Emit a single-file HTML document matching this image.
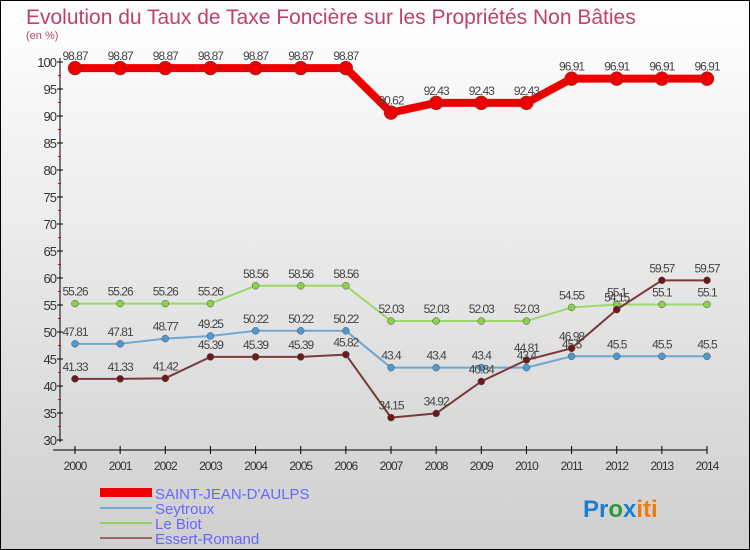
<!DOCTYPE html>
<html><head><meta charset="utf-8"><style>
body{margin:0;width:750px;height:550px;overflow:hidden;font-family:"Liberation Sans",sans-serif}
svg{display:block}
</style></head><body>
<svg id="chart" width="750" height="550" xmlns="http://www.w3.org/2000/svg">
<defs><linearGradient id="bg" x1="0" y1="0" x2="0" y2="1"><stop offset="0" stop-color="#ffffff"/><stop offset="1" stop-color="#cfcfcf"/></linearGradient></defs>
<rect x="0.5" y="0.5" width="749" height="549" fill="url(#bg)" stroke="#000"/>
<text x="26" y="24" font-size="21" fill="#c0406a">Evolution du Taux de Taxe Foncière sur les Propriétés Non Bâties</text>
<text x="26" y="39" font-size="11" fill="#c0406a">(en %)</text>
<g id="axes"></g><g id="series"></g>
<g>
<rect x="100" y="488" width="52" height="9" fill="#e00"/>
<text x="155" y="499" font-size="15" fill="#6666ff">SAINT-JEAN-D'AULPS</text>
<line x1="100" y1="508" x2="152" y2="508" stroke="#6fa8d0" stroke-width="2"/>
<text x="155" y="514" font-size="15" fill="#6666ff">Seytroux</text>
<line x1="100" y1="523" x2="152" y2="523" stroke="#8fd460" stroke-width="2"/>
<text x="155" y="529" font-size="15" fill="#6666ff">Le Biot</text>
<line x1="100" y1="538" x2="152" y2="538" stroke="#996666" stroke-width="2"/>
<text x="155" y="544" font-size="15" fill="#6666ff">Essert-Romand</text>
</g>
<text x="583" y="517" font-size="24" font-weight="bold"><tspan fill="#1a7fd0">Pr</tspan><tspan fill="#2a9a3a">o</tspan><tspan fill="#1a7fd0">x</tspan><tspan fill="#f07a10">iti</tspan></text>
</svg>
<script>
const years=[2000,2001,2002,2003,2004,2005,2006,2007,2008,2009,2010,2011,2012,2013,2014];
const saintJean=[98.87,98.87,98.87,98.87,98.87,98.87,98.87,90.62,92.43,92.43,92.43,96.91,96.91,96.91,96.91];
const seytroux=[47.81,47.81,48.77,49.25,50.22,50.22,50.22,43.4,43.4,43.4,43.4,45.5,45.5,45.5,45.5];
const leBiot=[55.26,55.26,55.26,55.26,58.56,58.56,58.56,52.03,52.03,52.03,52.03,54.55,55.1,55.1,55.1];
const essert=[41.33,41.33,41.42,45.39,45.39,45.39,45.82,34.15,34.92,40.84,44.81,46.98,54.15,59.57,59.57];
const yTicks=[30,35,40,45,50,55,60,65,70,75,80,85,90,95,100];
const NS="http://www.w3.org/2000/svg";
const x=i=>75+i*(707-75)/(years.length-1);
const y=v=>440-(v-30)*(378/70);
function mk(t,a,p){const e=document.createElementNS(NS,t);for(const k in a)e.setAttribute(k,a[k]);p.appendChild(e);return e;}
const ax=document.getElementById('axes');
let l=mk('line',{x1:60,y1:58,x2:60,y2:442,stroke:'#000'},ax);


l=mk('line',{x1:53,y1:450,x2:707,y2:450,stroke:'#000'},ax);


yTicks.forEach(v=>{
 mk('line',{x1:57,y1:y(v),x2:63,y2:y(v),stroke:'#000'},ax);
 if(v<100)mk('line',{x1:58,y1:y(v+2.5),x2:61,y2:y(v+2.5),stroke:'#e00'},ax);
 const t=mk('text',{x:56,y:y(v)+5,'font-size':13,'text-anchor':'end',fill:'#333','letter-spacing':'-1'},ax);
 t.textContent=v;
 
 
});
years.forEach((yr,i)=>{
 mk('line',{x1:x(i),y1:446,x2:x(i),y2:454,stroke:'#000'},ax);
 const t=mk('text',{x:x(i),y:470,'font-size':12,'text-anchor':'middle',fill:'#333','letter-spacing':'-1'},ax);
 t.textContent=yr;
 
 
});
const sg=document.getElementById('series');
function draw(vals,name,color,dot,w,r){
 const g=mk('g',{},sg);
 
 
 const p=mk('polyline',{points:vals.map((v,i)=>x(i)+','+y(v)).join(' '),fill:'none',stroke:color,'stroke-width':w,'stroke-linejoin':'round'},g);
 
 
 vals.forEach((v,i)=>{
  const c=mk('circle',{cx:x(i),cy:y(v),r:r,fill:dot,stroke:'#555','stroke-width':0.5},g);
  
  
  const t=mk('text',{x:x(i),y:y(v)-8,'font-size':12,'text-anchor':'middle',fill:'#444','letter-spacing':'-1'},g);
  t.textContent=v;
  
  
 });
}
draw(leBiot,'le-biot','#9ad86a','#8ccf4a',2,3.5);
draw(seytroux,'seytroux','#6fa8d0','#4f98d0',2,3.5);
draw(essert,'essert-romand','#7a3a3a','#6a1a1a',2,3.5);
draw(saintJean,'saint-jean','#e00','#e00',8,7);
</script>
</body></html>
